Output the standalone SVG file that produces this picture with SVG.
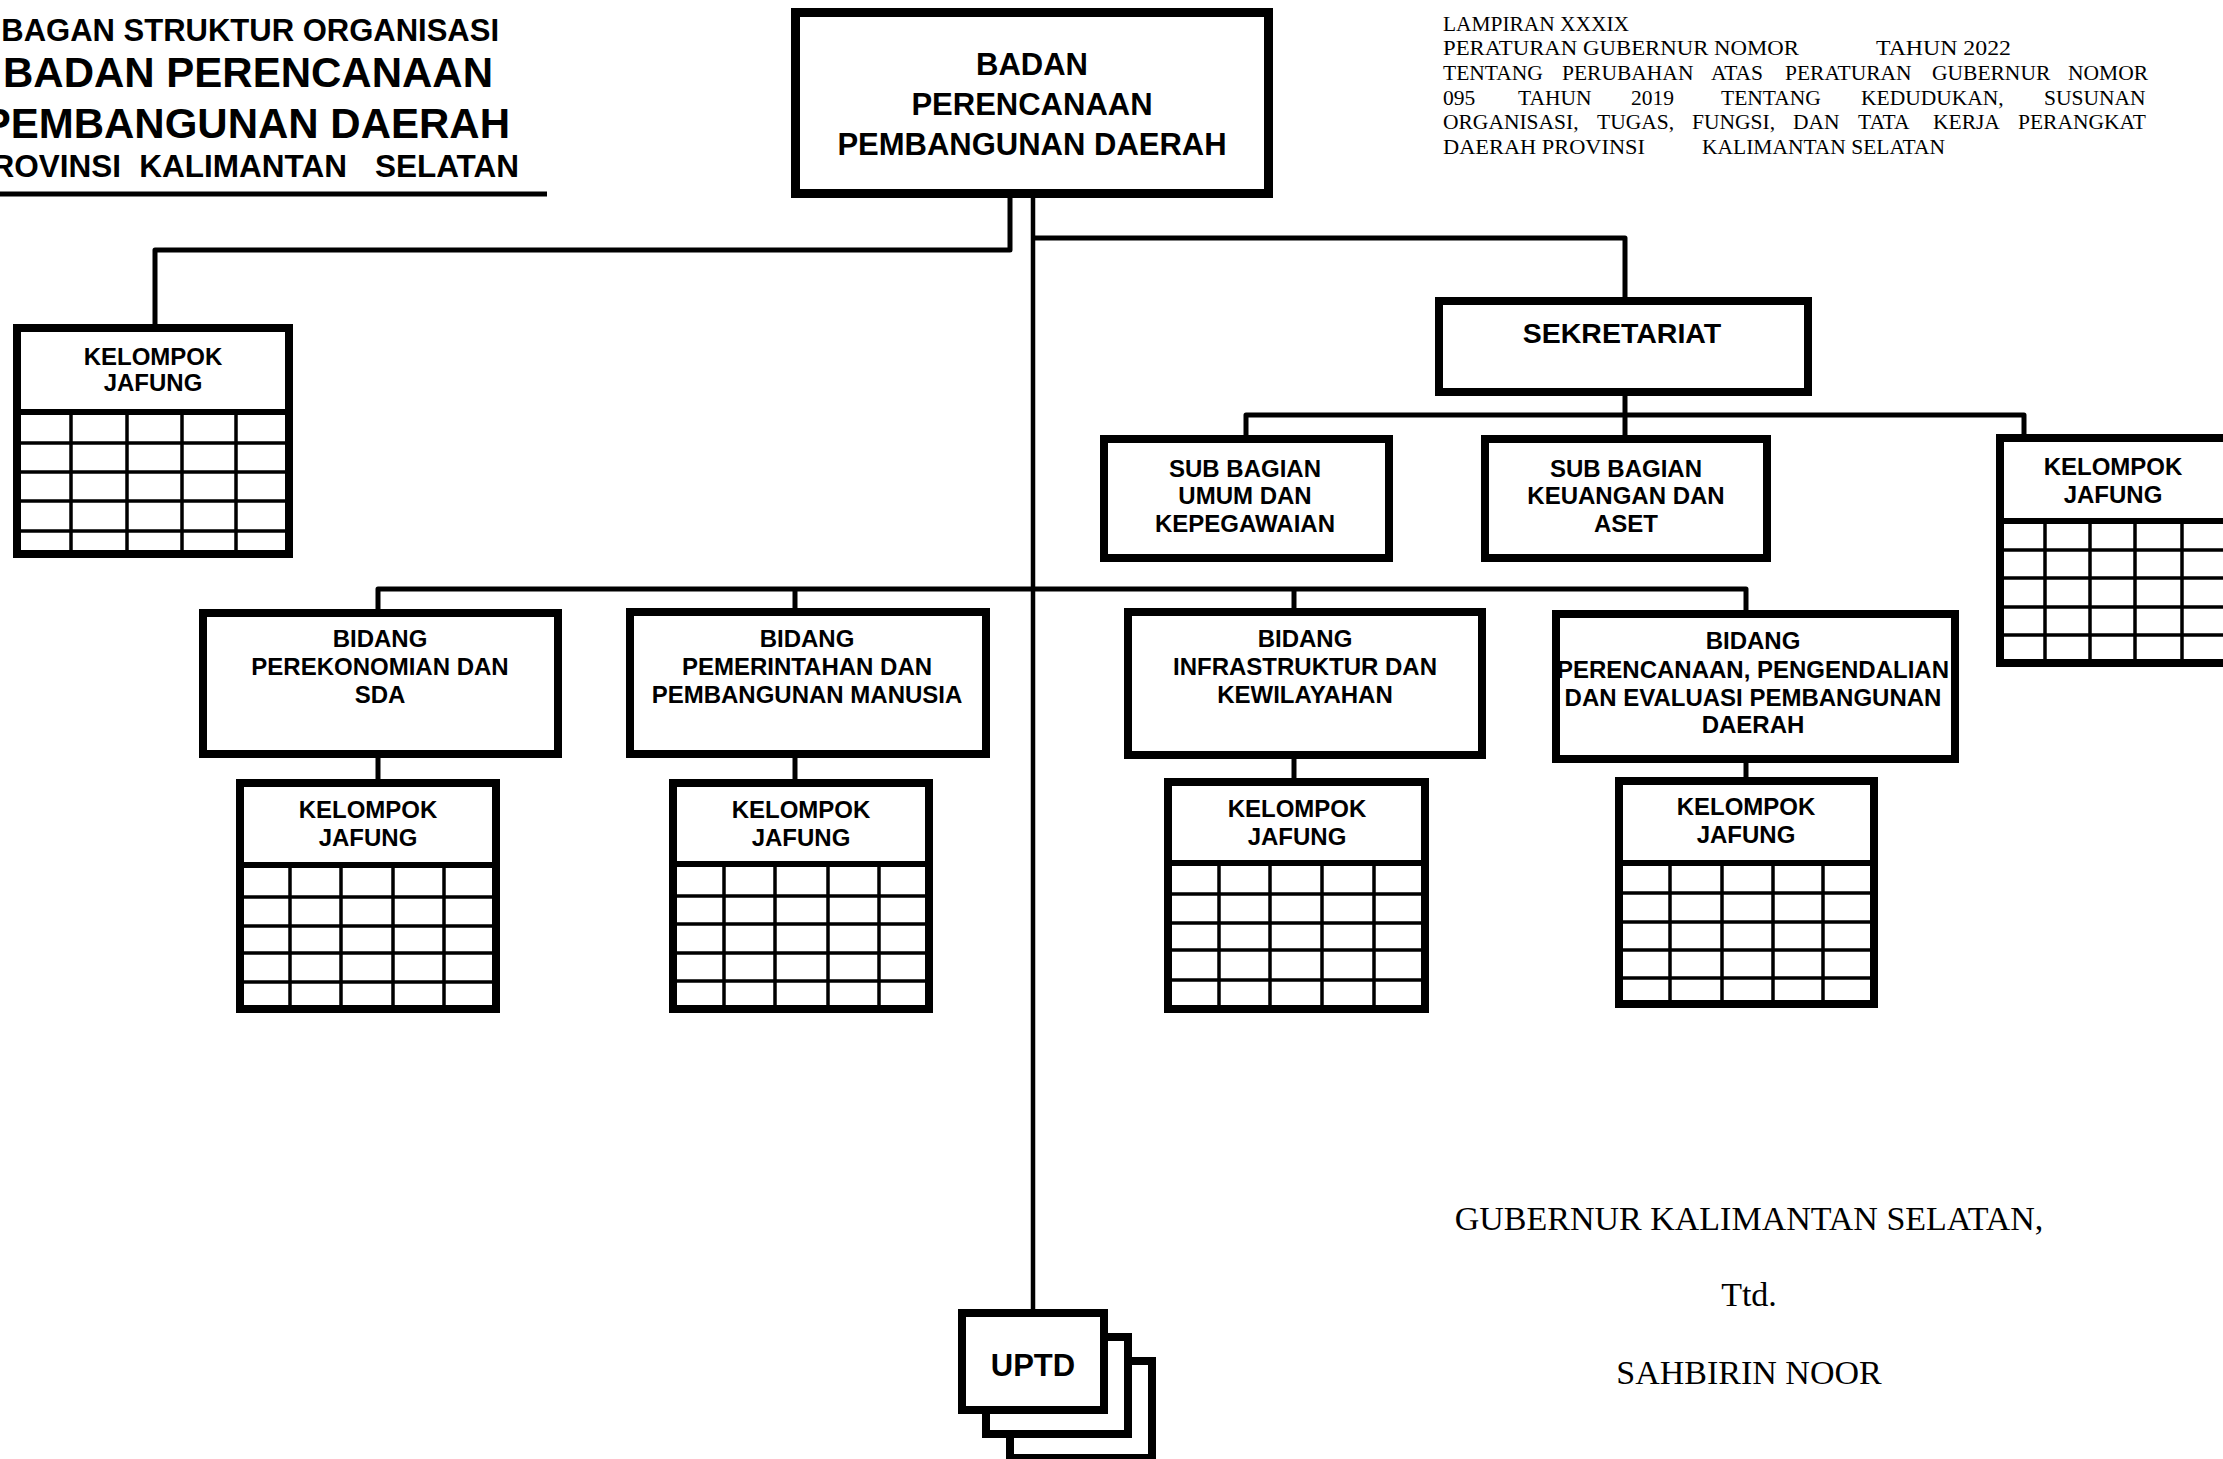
<svg xmlns="http://www.w3.org/2000/svg" width="2223" height="1459" viewBox="0 0 2223 1459">
<style>
.box{fill:#fff;stroke:#000;stroke-width:8}
.sep{stroke:#000;stroke-width:6}
.grid{stroke:#000;stroke-width:3.5}
.conn{fill:none;stroke:#000;stroke-width:5;stroke-linejoin:round}
.lbl{font-family:"Liberation Sans",Arial,sans-serif;font-weight:bold;font-size:24px;text-anchor:middle;fill:#000}
.big{font-size:31px}
.ttl{font-family:"Liberation Sans",Arial,sans-serif;font-weight:bold;text-anchor:end;fill:#000}
.ser{font-family:"Liberation Serif","Times New Roman",serif;fill:#000}
</style>
<rect width="2223" height="1459" fill="#fff"/>

<g id="title">
<text class="ttl" x="499" y="41" style="font-size:31px">BAGAN STRUKTUR ORGANISASI</text>
<text class="ttl" x="493" y="87" style="font-size:42px">BADAN PERENCANAAN</text>
<text class="ttl" x="510" y="138" style="font-size:42px">PEMBANGUNAN DAERAH</text>
<text class="ttl" x="121" y="177" style="font-size:31.5px">PROVINSI</text>
<text class="ttl" x="347" y="177" style="font-size:31.5px">KALIMANTAN</text>
<text class="ttl" x="519" y="177" style="font-size:31.5px">SELATAN</text>
<line x1="0" y1="194" x2="547" y2="194" stroke="#000" stroke-width="5"/>
</g>

<g id="lampiran" class="ser" style="font-size:21.5px">
<text x="1443" y="31" textLength="186" lengthAdjust="spacingAndGlyphs">LAMPIRAN XXXIX</text>
<text x="1443" y="55" textLength="356" lengthAdjust="spacingAndGlyphs">PERATURAN GUBERNUR NOMOR</text>
<text x="1876" y="55" textLength="135" lengthAdjust="spacingAndGlyphs">TAHUN 2022</text>
<text y="80"><tspan x="1443">TENTANG</tspan><tspan x="1562">PERUBAHAN</tspan><tspan x="1711">ATAS</tspan><tspan x="1785">PERATURAN</tspan><tspan x="1932">GUBERNUR</tspan><tspan x="2068">NOMOR</tspan></text>
<text y="105"><tspan x="1443">095</tspan><tspan x="1518">TAHUN</tspan><tspan x="1631">2019</tspan><tspan x="1721">TENTANG</tspan><tspan x="1861">KEDUDUKAN,</tspan><tspan x="2044">SUSUNAN</tspan></text>
<text y="129"><tspan x="1443">ORGANISASI,</tspan><tspan x="1597">TUGAS,</tspan><tspan x="1692">FUNGSI,</tspan><tspan x="1793">DAN</tspan><tspan x="1858">TATA</tspan><tspan x="1933">KERJA</tspan><tspan x="2018">PERANGKAT</tspan></text>
<text x="1443" y="154" textLength="202" lengthAdjust="spacingAndGlyphs">DAERAH PROVINSI</text>
<text x="1702" y="154" textLength="243" lengthAdjust="spacingAndGlyphs">KALIMANTAN SELATAN</text>
</g>

<g id="connectors">
<line x1="1033" y1="198" x2="1033" y2="1312" stroke="#000" stroke-width="4.5"/>
<polyline class="conn" points="1010,198 1010,250 155,250 155,326"/>
<polyline class="conn" points="1033,238 1625,238 1625,299"/>
<line class="conn" x1="1625" y1="394" x2="1625" y2="415"/>
<polyline class="conn" points="1246,437 1246,415 2024,415 2024,436"/>
<line class="conn" x1="1625" y1="415" x2="1625" y2="437"/>
<polyline class="conn" points="378,611 378,589 1746,589 1746,612"/>
<line class="conn" x1="795" y1="589" x2="795" y2="610"/>
<line class="conn" x1="1294" y1="589" x2="1294" y2="610"/>
<line class="conn" x1="378" y1="756" x2="378" y2="781"/>
<line class="conn" x1="795" y1="756" x2="795" y2="781"/>
<line class="conn" x1="1294" y1="757" x2="1294" y2="780"/>
<line class="conn" x1="1746" y1="761" x2="1746" y2="779"/>
</g>

<g id="kepala">
<rect x="795.5" y="12.5" width="473" height="181" fill="#fff" stroke="#000" stroke-width="9"/>
<text class="lbl big" x="1032" y="75">BADAN</text>
<text class="lbl big" x="1032" y="115">PERENCANAAN</text>
<text class="lbl big" x="1032" y="155">PEMBANGUNAN DAERAH</text>
</g>

<g id="jafung-kepala">
<rect class="box" x="17" y="328" width="272" height="226"/>
<line class="sep" x1="13" y1="412" x2="293" y2="412"/>
<g class="grid">
<line x1="13" y1="443" x2="293" y2="443"/><line x1="13" y1="472" x2="293" y2="472"/><line x1="13" y1="501" x2="293" y2="501"/><line x1="13" y1="531" x2="293" y2="531"/>
<line x1="71" y1="412" x2="71" y2="558"/><line x1="127" y1="412" x2="127" y2="558"/><line x1="182" y1="412" x2="182" y2="558"/><line x1="236" y1="412" x2="236" y2="558"/>
</g>
<text class="lbl" x="153" y="365">KELOMPOK</text>
<text class="lbl" x="153" y="391">JAFUNG</text>
</g>

<g id="sekretariat">
<rect class="box" x="1439" y="301" width="369" height="91"/>
<text class="lbl" x="1622" y="343" style="font-size:28.5px">SEKRETARIAT</text>
</g>

<g id="subbag-umum">
<rect class="box" x="1104" y="439" width="285" height="119"/>
<text class="lbl" x="1245" y="477">SUB BAGIAN</text>
<text class="lbl" x="1245" y="504">UMUM DAN</text>
<text class="lbl" x="1245" y="532">KEPEGAWAIAN</text>
</g>

<g id="subbag-keuangan">
<rect class="box" x="1485" y="439" width="282" height="119"/>
<text class="lbl" x="1626" y="477">SUB BAGIAN</text>
<text class="lbl" x="1626" y="504">KEUANGAN DAN</text>
<text class="lbl" x="1626" y="532">ASET</text>
</g>

<g id="jafung-sekretariat">
<rect class="box" x="2000" y="438" width="228" height="225"/>
<line class="sep" x1="1996" y1="521" x2="2232" y2="521"/>
<g class="grid">
<line x1="1996" y1="550" x2="2232" y2="550"/><line x1="1996" y1="578" x2="2232" y2="578"/><line x1="1996" y1="607" x2="2232" y2="607"/><line x1="1996" y1="635" x2="2232" y2="635"/>
<line x1="2045" y1="521" x2="2045" y2="667"/><line x1="2090" y1="521" x2="2090" y2="667"/><line x1="2135" y1="521" x2="2135" y2="667"/><line x1="2182" y1="521" x2="2182" y2="667"/>
</g>
<text class="lbl" x="2113" y="475">KELOMPOK</text>
<text class="lbl" x="2113" y="503">JAFUNG</text>
</g>

<g id="bidang-perekonomian">
<rect class="box" x="203" y="613" width="355" height="141"/>
<text class="lbl" x="380" y="647">BIDANG</text>
<text class="lbl" x="380" y="675">PEREKONOMIAN DAN</text>
<text class="lbl" x="380" y="703">SDA</text>
</g>

<g id="bidang-pemerintahan">
<rect class="box" x="630" y="612" width="356" height="142"/>
<text class="lbl" x="807" y="647">BIDANG</text>
<text class="lbl" x="807" y="675">PEMERINTAHAN DAN</text>
<text class="lbl" x="807" y="703">PEMBANGUNAN MANUSIA</text>
</g>

<g id="bidang-infrastruktur">
<rect class="box" x="1128" y="612" width="354" height="143"/>
<text class="lbl" x="1305" y="647">BIDANG</text>
<text class="lbl" x="1305" y="675">INFRASTRUKTUR DAN</text>
<text class="lbl" x="1305" y="703">KEWILAYAHAN</text>
</g>

<g id="bidang-perencanaan">
<rect class="box" x="1556" y="614" width="399" height="145"/>
<text class="lbl" x="1753" y="649">BIDANG</text>
<text class="lbl" x="1753" y="678">PERENCANAAN, PENGENDALIAN</text>
<text class="lbl" x="1753" y="706">DAN EVALUASI PEMBANGUNAN</text>
<text class="lbl" x="1753" y="733">DAERAH</text>
</g>

<g id="jafung-1">
<rect class="box" x="240" y="783" width="256" height="226"/>
<line class="sep" x1="236" y1="865" x2="500" y2="865"/>
<g class="grid">
<line x1="236" y1="897" x2="500" y2="897"/><line x1="236" y1="926" x2="500" y2="926"/><line x1="236" y1="953" x2="500" y2="953"/><line x1="236" y1="982" x2="500" y2="982"/>
<line x1="290" y1="865" x2="290" y2="1013"/><line x1="341" y1="865" x2="341" y2="1013"/><line x1="393" y1="865" x2="393" y2="1013"/><line x1="444" y1="865" x2="444" y2="1013"/>
</g>
<text class="lbl" x="368" y="818">KELOMPOK</text>
<text class="lbl" x="368" y="846">JAFUNG</text>
</g>

<g id="jafung-2">
<rect class="box" x="673" y="783" width="256" height="226"/>
<line class="sep" x1="669" y1="864" x2="933" y2="864"/>
<g class="grid">
<line x1="669" y1="896" x2="933" y2="896"/><line x1="669" y1="924" x2="933" y2="924"/><line x1="669" y1="953" x2="933" y2="953"/><line x1="669" y1="981" x2="933" y2="981"/>
<line x1="724" y1="864" x2="724" y2="1013"/><line x1="775" y1="864" x2="775" y2="1013"/><line x1="828" y1="864" x2="828" y2="1013"/><line x1="879" y1="864" x2="879" y2="1013"/>
</g>
<text class="lbl" x="801" y="818">KELOMPOK</text>
<text class="lbl" x="801" y="846">JAFUNG</text>
</g>

<g id="jafung-3">
<rect class="box" x="1168" y="782" width="257" height="227"/>
<line class="sep" x1="1164" y1="863" x2="1429" y2="863"/>
<g class="grid">
<line x1="1164" y1="894" x2="1429" y2="894"/><line x1="1164" y1="923" x2="1429" y2="923"/><line x1="1164" y1="950" x2="1429" y2="950"/><line x1="1164" y1="980" x2="1429" y2="980"/>
<line x1="1219" y1="863" x2="1219" y2="1013"/><line x1="1270" y1="863" x2="1270" y2="1013"/><line x1="1322" y1="863" x2="1322" y2="1013"/><line x1="1374" y1="863" x2="1374" y2="1013"/>
</g>
<text class="lbl" x="1297" y="817">KELOMPOK</text>
<text class="lbl" x="1297" y="845">JAFUNG</text>
</g>

<g id="jafung-4">
<rect class="box" x="1619" y="781" width="255" height="223"/>
<line class="sep" x1="1615" y1="863" x2="1878" y2="863"/>
<g class="grid">
<line x1="1615" y1="893" x2="1878" y2="893"/><line x1="1615" y1="922" x2="1878" y2="922"/><line x1="1615" y1="950" x2="1878" y2="950"/><line x1="1615" y1="978" x2="1878" y2="978"/>
<line x1="1670" y1="863" x2="1670" y2="1008"/><line x1="1722" y1="863" x2="1722" y2="1008"/><line x1="1773" y1="863" x2="1773" y2="1008"/><line x1="1823" y1="863" x2="1823" y2="1008"/>
</g>
<text class="lbl" x="1746" y="815">KELOMPOK</text>
<text class="lbl" x="1746" y="843">JAFUNG</text>
</g>

<g id="uptd">
<rect class="box" x="1010" y="1361" width="142" height="97"/>
<rect class="box" x="986" y="1337" width="142" height="97"/>
<rect class="box" x="962" y="1313" width="142" height="97"/>
<text class="lbl big" x="1033" y="1376">UPTD</text>
</g>

<g id="pengesahan" class="ser" style="font-size:34px;text-anchor:middle">
<text x="1749" y="1230">GUBERNUR KALIMANTAN SELATAN,</text>
<text x="1749" y="1306">Ttd.</text>
<text x="1749" y="1384">SAHBIRIN NOOR</text>
</g>
</svg>
